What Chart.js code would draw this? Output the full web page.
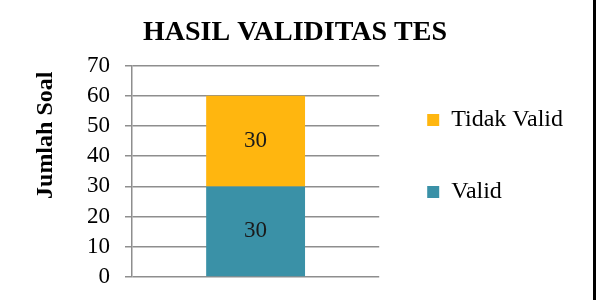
<!doctype html>
<html>
<head>
<meta charset="utf-8">
<title>Hasil Validitas Tes</title>
<script src="https://cdn.jsdelivr.net/npm/chart.js@4.4.1/dist/chart.umd.min.js"></script>
<style>
  body { margin: 0; background: #fff; }
  .frame { width: 593px; height: 300px; border-right: 3px solid #000; }
</style>
</head>
<body>
<div class="frame">
  <canvas id="chart" width="593" height="300"></canvas>
</div>
<script>
  // data
  const categories = [''];
  const valid = [30];
  const tidakValid = [30];
  const yMin = 0, yMax = 70, yStep = 10;

  const serif = '"Liberation Serif", "Times New Roman", serif';
  const gridGray = '#8e8e8e';
  const padLeft = 17;

  // writes the value in the middle of each bar segment
  const barLabels = {
    id: 'barLabels',
    afterDatasetsDraw(chart) {
      const ctx = chart.ctx;
      ctx.save();
      ctx.font = '23px ' + serif;
      ctx.fillStyle = '#1a1a1a';
      ctx.textAlign = 'center';
      ctx.textBaseline = 'middle';
      chart.data.datasets.forEach((ds, i) => {
        chart.getDatasetMeta(i).data.forEach((bar, j) => {
          ctx.fillText(ds.data[j], bar.x, (bar.y + bar.base) / 2);
        });
      });
      ctx.restore();
    }
  };

  new Chart(document.getElementById('chart'), {
    type: 'bar',
    data: {
      labels: categories,
      datasets: [
        { label: 'Valid', data: valid, backgroundColor: '#3A91A7', borderWidth: 0 },
        { label: 'Tidak Valid', data: tidakValid, backgroundColor: '#FFB60F', borderWidth: 0 }
      ]
    },
    options: {
      responsive: false,
      animation: false,
      layout: { padding: { left: padLeft, right: 20, top: 12, bottom: 0 } },
      datasets: { bar: { barPercentage: 0.4, categoryPercentage: 1 } },
      scales: {
        x: {
          stacked: true,
          grid: { display: false },
          border: { display: false },
          ticks: { display: false },
          afterFit: (scale) => { scale.height = 23; }
        },
        y: {
          stacked: true,
          min: yMin,
          max: yMax,
          afterFit: (scale) => {
            scale.width = 132 - padLeft;
            scale.paddingBottom = 0;
          },
          ticks: { stepSize: yStep, autoSkip: false, color: '#000', padding: 15, font: { family: serif, size: 23 } },
          grid: { color: gridGray, lineWidth: 1.5, tickLength: 7 },
          border: { color: gridGray, width: 1.5 },
          title: {
            display: true,
            text: 'Jumlah Soal ',
            align: 'end',
            color: '#000',
            padding: { top: 14, bottom: 0 },
            font: { family: serif, size: 24, weight: 'bold' }
          }
        }
      },
      plugins: {
        title: {
          display: true,
          text: 'HASIL VALIDITAS TES',
          color: '#000',
          padding: { top: 4, bottom: 16 },
          font: { family: serif, size: 28, weight: 'bold' }
        },
        legend: {
          position: 'right',
          reverse: true,
          maxWidth: 220,
          labels: {
            boxWidth: 12,
            boxHeight: 12,
            padding: 48,
            color: '#000',
            font: { family: serif, size: 24 }
          }
        },
        tooltip: { enabled: false }
      }
    },
    plugins: [barLabels]
  });
</script>
</body>
</html>
